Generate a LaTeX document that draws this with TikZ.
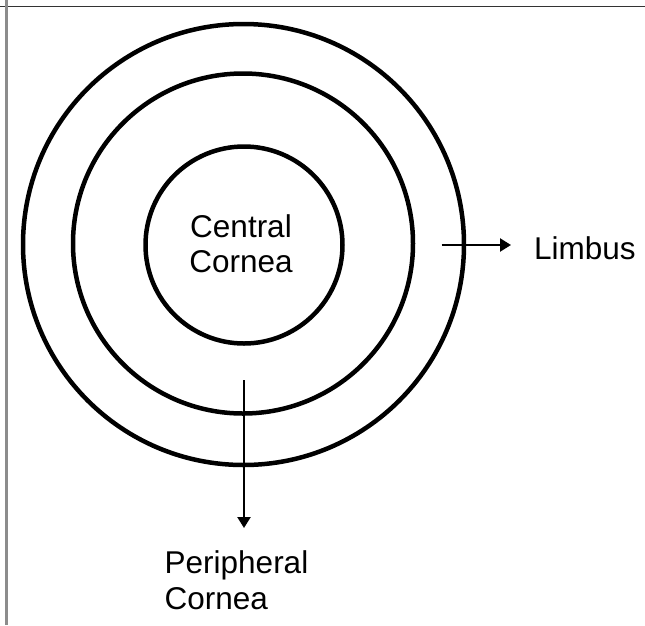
\documentclass[tikz,border=0pt]{standalone}
\usepackage{fontspec}
\setmainfont{Liberation Sans}
\usetikzlibrary{arrows.meta}
\begin{document}
\begin{tikzpicture}[x=1pt,y=-1pt,
  ring/.style={circle,draw=black,line width=4.5pt,inner sep=0pt,outer sep=0pt},
  lbl/.style={font=\fontsize{31.5}{36}\selectfont,inner sep=0pt,text=black},
  pointer/.style={draw=black,line width=2.3pt,-{Triangle[length=11pt,width=13pt]}}]
\useasboundingbox (0,0) rectangle (645,625);
\fill[white] (0,0) rectangle (645,625);
\draw[draw=black!80,line width=1.8pt] (0,6.5) -- (645,6.5);
\draw[draw=black!45,line width=2.5pt] (6.5,0) -- (6.5,625);
\node[ring,minimum size=441pt] (outer) at (243.5,244.5) {};
\node[ring,minimum size=340pt] (middle) at (243,243.5) {};
\node[ring,minimum size=197pt] (inner) at (244,245) {};
\node[lbl,anchor=base] (c1) at (241,237.7) {Central};
\node[lbl,anchor=base] (c2) at (241,272.7) {Cornea};
\node[lbl,anchor=base west] (limbus) at (534,259.3) {Limbus};
\node[lbl,anchor=base west] (p1) at (164.5,573) {Peripheral};
\node[lbl,anchor=base west] (p2) at (164.5,609) {Cornea};
\coordinate (la) at (441.5,245);
\coordinate (lb) at (511,245);
\coordinate (pa) at (244,380);
\coordinate (pb) at (244,528);
\draw[pointer] (la) -- (lb);
\draw[pointer] (pa) -- (pb);
\end{tikzpicture}
\end{document}
